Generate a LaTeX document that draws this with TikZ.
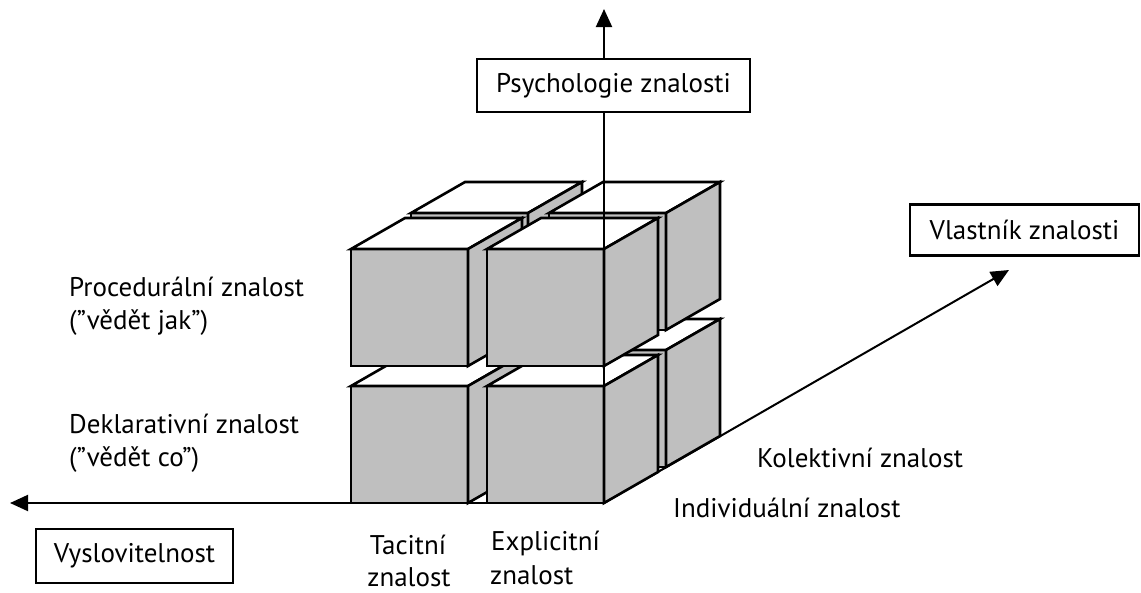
\documentclass[tikz,border=0pt]{standalone}
\usepackage{fontspec}
\setmainfont{PT Sans}
\usetikzlibrary{arrows.meta}
\definecolor{facegray}{RGB}{191,191,191}
\newcommand\lblfont{\fontsize{27}{32}\selectfont}
\tikzset{
  cubeedge/.style={draw=black, line width=2.6pt, line join=miter},
  axisline/.style={draw=black, line width=2pt, -{Triangle[length=18pt,width=16pt]}},
  labelbox/.style={draw=black, line width=2.2pt, fill=white, inner sep=0pt, font=\lblfont},
  lbl/.style={font=\lblfont, inner sep=0pt},
}
% one cube: front face top-left corner at (#1,#2), edge 117, depth (54,-31)
\newcommand\drawcube[2]{%
  \draw[cubeedge, fill=facegray] (#1,#2) rectangle ({#1+117},{#2+117});
  \draw[cubeedge, fill=white] (#1,#2) -- ({#1+54},{#2-31}) -- ({#1+171},{#2-31}) -- ({#1+117},#2) -- cycle;
  \draw[cubeedge, fill=facegray] ({#1+117},#2) -- ({#1+171},{#2-31}) -- ({#1+171},{#2+86}) -- ({#1+117},{#2+117}) -- cycle;
}
\begin{document}
\begin{tikzpicture}[x=1pt, y=-1pt]
\useasboundingbox (0,0) rectangle (1141,592);

% axes origin and ends
\coordinate (O) at (604,503);
\coordinate (left) at (10,503);
\coordinate (up) at (604,9);
\coordinate (depth) at (1009,270);

\draw[axisline] (O) -- (left);
\draw[axisline] (O) -- (depth);

% back row (collective knowledge)
\drawcube{411}{350}
\drawcube{549}{350}
\drawcube{411}{213}
\drawcube{549}{213}
% front row (individual knowledge)
\drawcube{351}{386}
\drawcube{487}{386}
\drawcube{351}{249}
\drawcube{487}{249}

\draw[axisline] (O) -- (up);

% axis titles
\node[labelbox, minimum width=273pt, minimum height=53pt] (psy) at (613.5,85.5) {Psychologie znalosti};
\node[labelbox, minimum width=229pt, minimum height=51pt] (own) at (1024.5,230) {Vlastník znalosti};
\node[labelbox, minimum width=197pt, minimum height=54pt] (expr) at (134.5,556) {Vyslovitelnost};

% category labels
\node[lbl, anchor=base west] (proc) at (69,296) {Procedurální znalost};
\node[lbl, anchor=base west] (proc2) at (69,329) {(”vědět jak”)};
\node[lbl, anchor=base west] (decl) at (69,433) {Deklarativní znalost};
\node[lbl, anchor=base west] (decl2) at (69,466) {(”vědět co”)};
\node[lbl, anchor=base] (tac) at (408,554) {Tacitní};
\node[lbl, anchor=base] (tac2) at (409,586) {znalost};
\node[lbl, anchor=base west] (expl) at (491,550) {Explicitní};
\node[lbl, anchor=base west] (expl2) at (490,584) {znalost};
\node[lbl, anchor=base west] (kol) at (757,467) {Kolektivní znalost};
\node[lbl, anchor=base west] (ind) at (673,517) {Individuální znalost};
\end{tikzpicture}
\end{document}
